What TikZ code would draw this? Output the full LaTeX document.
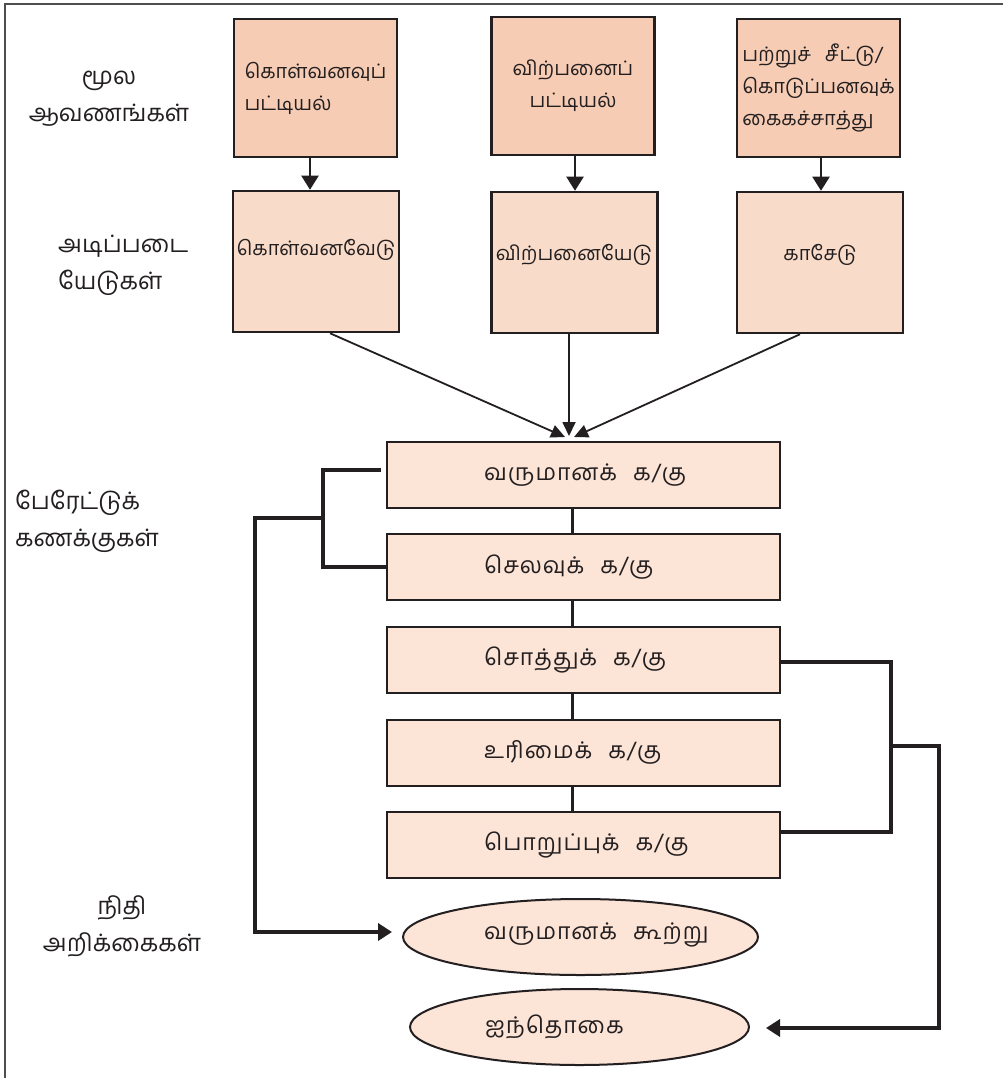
\documentclass[tikz,border=0pt]{standalone}
\usepackage{fontspec}
\newfontfamily\tam[Script=Tamil]{Hind Madurai}
\newfontfamily\tamwide[Script=Tamil,LetterSpace=4.0]{Hind Madurai}
\usetikzlibrary{arrows.meta,shapes.geometric}
\definecolor{srcfill}{RGB}{246,204,180}
\definecolor{dayfill}{RGB}{249,219,201}
\definecolor{ledfill}{RGB}{252,228,215}
\definecolor{ink}{RGB}{35,31,32}
\newcommand\wgap{\hspace{0.7em}}
\begin{document}
\begin{tikzpicture}[x=1pt,y=-1pt,
  font=\tam\fontsize{20}{32}\selectfont,
  every node/.style={inner sep=0pt,text=ink},
  srcbox/.style={draw=ink,line width=2.5pt,fill=srcfill,minimum width=163pt,minimum height=138pt,align=left},
  daybox/.style={draw=ink,line width=2.5pt,fill=dayfill,minimum width=166pt,minimum height=141pt},
  ledbox/.style={draw=ink,line width=2pt,fill=ledfill,minimum width=393pt,minimum height=66pt},
  stmt/.style={ellipse,draw=ink,line width=2pt,fill=ledfill,minimum height=76pt},
  lbl/.style={font=\tam\fontsize{24}{37}\selectfont},
  txt/.style={anchor=west,font=\tamwide\fontsize{23}{30}\selectfont},
  thinarrow/.style={draw=ink,line width=2pt,-{Triangle[length=14pt,width=17pt]}},
  convarrow/.style={draw=ink,line width=1.8pt,-{Triangle[length=14pt,width=13pt]}},
  bracket/.style={draw=ink,line width=3.5pt},
  bracketarrow/.style={draw=ink,line width=3.5pt,-{Triangle[length=14pt,width=17pt]}}
]
\useasboundingbox (0,0) rectangle (1003,1078);
\fill[white] (0,0) rectangle (1003,1078);
\draw[ink!80,line width=2.5pt] (5,1080) -- (5,4) -- (1005,4);

% row labels
\node[lbl,align=center] (lab1) at (109,98.5) {மூல\\ஆவணங்கள்};
\node[lbl,align=left,anchor=west] (lab2) at (58,265.5) {அடிப்படை\\யேடுகள்};
\node[lbl,align=left,anchor=west] (lab3) at (15,521) {பேரேட்டுக்\\கணக்குகள்};
\node[lbl,align=center] (lab4) at (122,926.5) {நிதி\\அறிக்கைகள்};

% source documents
\node[srcbox] (s1) at (315.5,88) {கொள்வனவுப்\\பட்டியல்};
\node[srcbox,align=center] (s2) at (573,86) {விற்பனைப்\\பட்டியல்};
\node[srcbox] (s3) at (818.5,88) {பற்றுச்\wgap சீட்டு/\\கொடுப்பனவுக்\\கைகச்சாத்து};

% day books
\node[daybox] (b1) at (316,261.5) {};
\node[daybox] (b2) at (574.5,262.5) {};
\node[daybox] (b3) at (820,262.5) {};
\node (bt1) at (316,250) {கொள்வனவேடு};
\node (bt2) at (574,255) {விற்பனையேடு};
\node (bt3) at (820,255) {காசேடு};

\draw[thinarrow] ([xshift=-5.5pt]s1.south) -- ([xshift=-5.5pt]s1.south |- b1.north);
\draw[thinarrow] ([xshift=2pt]s2.south) -- ([xshift=2pt]s2.south |- b2.north);
\draw[thinarrow] ([xshift=2.5pt]s3.south) -- ([xshift=2.5pt]s3.south |- b3.north);

% ledger accounts
\node[ledbox] (l1) at (583.5,475) {};
\node[ledbox] (l2) at (583.5,567) {};
\node[ledbox] (l3) at (583.5,660) {};
\node[ledbox] (l4) at (583.5,752.5) {};
\node[ledbox] (l5) at (583.5,845) {};
\node[txt] (lt1) at (484,475) {வருமானக்\wgap க/கு};
\node[txt] (lt2) at (484,567) {செலவுக்\wgap க/கு};
\node[txt] (lt3) at (484,660) {சொத்துக்\wgap க/கு};
\node[txt] (lt4) at (484,752.5) {உரிமைக்\wgap க/கு};
\node[txt] (lt5) at (484,845) {பொறுப்புக்\wgap க/கு};

% convergent arrows
\draw[convarrow] ([xshift=14pt]b1.south) -- ([xshift=-18.5pt,yshift=4pt]l1.north);
\draw[convarrow] ([xshift=-5.5pt]b2.south) -- ([xshift=-14.5pt,yshift=5pt]l1.north);
\draw[convarrow] ([xshift=-20pt]b3.south) -- ([xshift=-9.5pt,yshift=4pt]l1.north);

% links between ledger boxes
\foreach \a/\b in {l1/l2,l2/l3,l3/l4,l4/l5}
  \draw[draw=ink,line width=3pt] ([xshift=-11.5pt]\a.south) -- ([xshift=-11.5pt]\b.north);

% statements
\node[stmt,minimum width=355pt] (e1) at (580.5,937) {};
\node[stmt,minimum width=339pt] (e2) at (579.5,1027) {};
\node[txt] (et1) at (484,935) {வருமானக்\wgap கூற்று};
\node[txt] (et2) at (485,1027) {ஐந்தொகை};

% left bracket
\coordinate (lbr) at (323,518);
\coordinate (lcorner) at (255,518);
\draw[bracket] ([xshift=-5pt,yshift=5pt]l1.west) -| (lbr) |- (l2.west);
\draw[bracketarrow] (lbr) -- (lcorner) |- ([xshift=-10pt,yshift=5pt]e1.west);

% right bracket
\coordinate (rbr) at (891,746);
\coordinate (rcorner) at (939,746);
\draw[bracket] ([yshift=-2pt]l3.east) -| (rbr) |- ([yshift=13pt]l5.east);
\draw[bracketarrow] (rbr) -- (rcorner) |- ([xshift=16pt,yshift=-1pt]e2.east);
\end{tikzpicture}
\end{document}
